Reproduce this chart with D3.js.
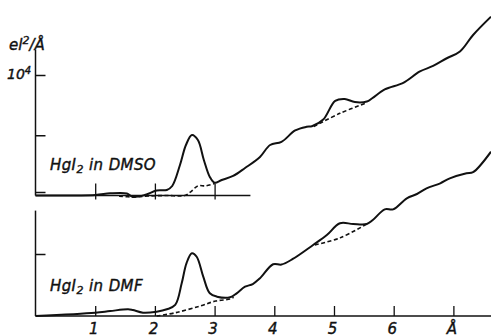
<!DOCTYPE html>
<html>
<head>
<meta charset="utf-8">
<script src="https://cdn.jsdelivr.net/npm/d3@7"></script>
<style>
  body { margin: 0; background: #fff; }
  svg text { font-family: "DejaVu Sans", sans-serif; font-style: italic; fill: #111; stroke: #111; stroke-width: 0.4; }
</style>
</head>
<body>
<div id="chart"></div>
<script>
// r in Å, intensity in el^2/Å
const xTicks = [1, 2, 3, 4, 5, 6, 7];
const yTicks = [5000, 10000];

const dmsoSolid = [
  [0, 0], [1.0, 40], [1.25, 180], [1.53, 170], [1.63, -120], [1.83, 40], [2.03, 410], [2.2, 460],
  [2.29, 790], [2.42, 2530], [2.52, 4190], [2.62, 5020], [2.72, 4600], [2.82, 2950], [2.92, 1540],
  [3.0, 1060], [3.12, 1290], [3.31, 1620], [3.51, 2280], [3.76, 3200], [3.93, 4190], [4.12, 4450],
  [4.35, 5400], [4.54, 5700], [4.63, 5750], [4.82, 6300], [5.02, 7850], [5.18, 8010], [5.35, 7750],
  [5.55, 7800], [5.64, 8070], [5.85, 8810], [6.16, 9350], [6.44, 10300], [6.66, 10750], [6.89, 11390],
  [7.11, 11950], [7.33, 13320], [7.63, 14840]
];
const dmsoDash1 = [[1.4, -60], [1.65, -120], [1.9, -40], [2.2, 0], [2.5, 0], [2.6, 300], [2.72, 800], [2.85, 800], [3.0, 1000]];
const dmsoDash2 = [[4.66, 5720], [5.1, 6820], [5.55, 7700]];

const dmfSolid = [
  [0, 0], [1.0, 270], [1.25, 400], [1.55, 540], [1.63, 480], [1.8, 270], [2.03, 350], [2.2, 540],
  [2.34, 890], [2.45, 2660], [2.53, 4270], [2.62, 5060], [2.7, 4780], [2.81, 3170], [2.92, 1830],
  [3.04, 1560], [3.26, 1510], [3.37, 1830], [3.51, 2360], [3.64, 2580], [3.76, 3040], [3.98, 4170],
  [4.12, 4150], [4.31, 4600], [4.65, 5730], [4.88, 6530], [5.1, 7480], [5.32, 7420], [5.55, 7420],
  [5.65, 7740], [5.85, 8600], [5.99, 8600], [6.22, 9490], [6.39, 9840], [6.55, 10300], [6.78, 10700],
  [6.94, 11100], [7.22, 11510], [7.33, 11600], [7.63, 13250]
];
const dmfDash1 = [[2.03, 0], [2.35, 270], [2.76, 810], [3.02, 1210], [3.26, 1370], [3.32, 1500]];
const dmfDash2 = [[4.68, 5730], [5.1, 6300], [5.55, 7420]];

const width = 491, height = 336;
const svg = d3.select('#chart').append('svg')
  .attr('width', width).attr('height', height);

const x = d3.scaleLinear().domain([0, 7.63]).range([35.5, 491]);
const yTop = d3.scaleLinear().domain([0, 10000]).range([195.5, 75]);
const yBot = d3.scaleLinear().domain([0, 10000]).range([316, 192]);

function panel(y, xMax, yMax, solid, dashes, showLabels) {
  const g = svg.append('g');
  // x axis, ticks pointing up
  const xa = d3.axisBottom(x)
    .tickValues(xTicks.filter(d => d < xMax))
    .tickSizeInner(-10).tickSizeOuter(0)
    .tickFormat(d => showLabels ? (d === 7 ? 'Å' : d) : '');
  const xg = g.append('g').attr('transform', `translate(0,${y(0)})`).call(xa);
  xg.select('.domain').attr('d', `M${x(0)},0H${x(xMax)}`);
  if (!showLabels) xg.selectAll('.tick line').attr('y1', 4).attr('y2', -12);
  xg.selectAll('line, path').attr('stroke', '#111').attr('stroke-width', 1.3);
  xg.selectAll('text').attr('font-size', 15).attr('font-family', null).attr('fill', '#111')
    .attr('y', 17.5).attr('dy', 0).attr('dx', -2);

  // y axis, ticks pointing right
  const ya = d3.axisLeft(y).tickValues(yTicks).tickSizeInner(-10).tickSizeOuter(0).tickFormat('');
  const yg = g.append('g').attr('transform', `translate(${x(0)},0)`).call(ya);
  yg.select('.domain').attr('d', `M0,${y(yMax)}V${y(0)}`);
  yg.selectAll('line, path').attr('stroke', '#111').attr('stroke-width', 1.5);

  const line = d3.line().x(d => x(d[0])).y(d => y(d[1])).curve(d3.curveCatmullRom.alpha(0.5));
  g.append('path').datum(solid).attr('d', line)
    .attr('fill', 'none').attr('stroke', '#111').attr('stroke-width', 2);
  dashes.forEach(ds => {
    g.append('path').datum(ds).attr('d', line)
      .attr('fill', 'none').attr('stroke', '#111').attr('stroke-width', 1.6)
      .attr('stroke-dasharray', '4,2.5');
  });
  return g;
}

panel(yTop, 3.6, 12100, dmsoSolid, [dmsoDash1, dmsoDash2], false);
panel(yBot, 7.63, 8500, dmfSolid, [dmfDash1, dmfDash2], true);

// y label and 10^4 tick label
const yl = svg.append('text').attr('x', 9).attr('y', 50).attr('font-size', 15);
yl.append('tspan').text('el');
yl.append('tspan').attr('font-size', 11).attr('dy', -6).text('2');
yl.append('tspan').attr('dy', 6).text('/Å');

const tl = svg.append('text').attr('x', 7).attr('y', 79).attr('font-size', 14);
tl.append('tspan').text('10');
tl.append('tspan').attr('font-size', 10).attr('dy', -5).text('4');

function sampleLabel(px, py, solvent) {
  const t = svg.append('text').attr('x', px).attr('y', py).attr('font-size', 15)
    .attr('letter-spacing', 0.4);
  t.append('tspan').text('HgI');
  t.append('tspan').attr('font-size', 11).attr('dy', 3).text('2');
  t.append('tspan').attr('dy', -3).text(' in ' + solvent);
}
sampleLabel(50, 170, 'DMSO');
sampleLabel(50, 291, 'DMF');
</script>
</body>
</html>
